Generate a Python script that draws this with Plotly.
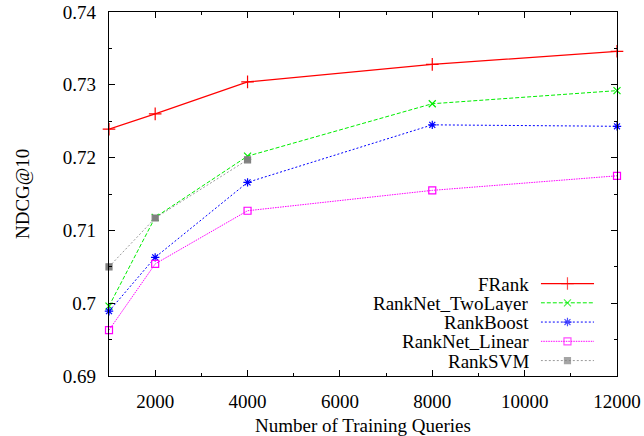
import plotly.graph_objects as go

queries = [1000, 2000, 4000, 8000, 12000]
frank = [0.7239, 0.7260, 0.7304, 0.7328, 0.7346]
ranknet_twolayer = [0.6996, 0.7118, 0.7202, 0.7274, 0.7292]
rankboost = [0.6989, 0.7063, 0.7166, 0.7245, 0.7243]
ranknet_linear = [0.6963, 0.7054, 0.7127, 0.7155, 0.7175]
svm_queries = [1000, 2000, 4000]
ranksvm = [0.7050, 0.7117, 0.7197]

x_ticks = [2000, 4000, 6000, 8000, 10000, 12000]
y_ticks = [0.69, 0.70, 0.71, 0.72, 0.73, 0.74]
y_tick_labels = ["0.69", "0.7", "0.71", "0.72", "0.73", "0.74"]

series = [
    ("FRank", queries, frank, "#ff0000", "solid", "cross-thin-open", 9, 1.2),
    ("RankNet_TwoLayer", queries, ranknet_twolayer, "#00ee00", "4px,2px", "x-thin-open", 7, 1.0),
    ("RankBoost", queries, rankboost, "#0000ff", "2px,2px", "asterisk-open", 7, 1.0),
    ("RankNet_Linear", queries, ranknet_linear, "#ff00ff", "1.5px,1px", "square-open", 7, 1.0),
    ("RankSVM", svm_queries, ranksvm, "#808080", "2px,2px", "square", 6, 0.8),
]

font = "Liberation Serif, Times New Roman, serif"
fs = 19
fig = go.Figure()

for name, xs, ys, color, dash, sym, msize, lw in series:
    fig.add_trace(go.Scatter(
        x=xs, y=ys, mode="lines+markers", name=name,
        line=dict(color=color, width=lw, dash=dash),
        marker=dict(symbol=sym, size=msize, color=color, line=dict(color=color, width=1.2)),
        showlegend=False, cliponaxis=False,
    ))

# manual gnuplot-style legend (text on left, sample on right)
leg_top = 0.254
leg_step = 0.0529
for i, (name, xs, ys, color, dash, sym, msize, lw) in enumerate(series):
    yy = leg_top - i * leg_step
    fig.add_trace(go.Scatter(
        x=[0.0, 0.5, 1.0], y=[yy, yy, yy], xaxis="x2", yaxis="y2",
        mode="lines+markers", showlegend=False, hoverinfo="skip",
        line=dict(color=color, width=lw, dash=dash),
        marker=dict(symbol=sym, size=[0, msize, 0], color=color, line=dict(color=color, width=1.2)),
    ))
    fig.add_annotation(
        x=0.829, y=yy, xref="paper", yref="paper", text=name, showarrow=False,
        xanchor="right", yanchor="middle", height=18, borderpad=0,
        font=dict(family=font, size=fs, color="black"),
    )

# axis titles
fig.add_annotation(
    x=0.5, y=0, xref="paper", yref="paper", text="Number of Training Queries",
    showarrow=False, xanchor="center", yanchor="middle", yshift=-49,
    font=dict(family=font, size=fs, color="black"),
)
fig.add_annotation(
    x=0, y=0.5, xref="paper", yref="paper", text="NDCG@10", textangle=-90,
    showarrow=False, xanchor="center", yanchor="middle", xshift=-87,
    font=dict(family=font, size=fs, color="black"),
)

axis_common = dict(
    showgrid=False, zeroline=False, showline=True, linecolor="black", linewidth=1.2,
    mirror="allticks", ticks="inside", ticklen=6, tickcolor="black", automargin=False,
    tickfont=dict(family=font, size=fs, color="black"),
)

fig.update_layout(
    width=644, height=436,
    margin=dict(l=109, r=27, t=12, b=60),
    paper_bgcolor="white", plot_bgcolor="rgba(0,0,0,0)",
    hovermode=False,
    xaxis=dict(
        range=[1000, 12000], tickvals=x_ticks, ticktext=[str(v) for v in x_ticks],
        minor=dict(dtick=1000, tick0=0, ticks="inside", ticklen=3, tickcolor="black"),
        ticklabelstandoff=8,
        **axis_common,
    ),
    yaxis=dict(
        range=[0.69, 0.74], tickvals=y_ticks, ticktext=y_tick_labels,
        minor=dict(dtick=0.005, tick0=0.69, ticks="inside", ticklen=3, tickcolor="black"),
        ticklabelstandoff=8,
        **axis_common,
    ),
    xaxis2=dict(domain=[0.850, 0.955], range=[0, 1], visible=False, fixedrange=True, anchor="y2"),
    yaxis2=dict(domain=[0, 1], range=[0, 1], visible=False, fixedrange=True, anchor="x2"),
)

fig.write_html(
    "out.html",
    config={"displayModeBar": False, "staticPlot": True},
    post_script="document.body.style.margin='0';document.body.style.overflow='hidden';",
)
